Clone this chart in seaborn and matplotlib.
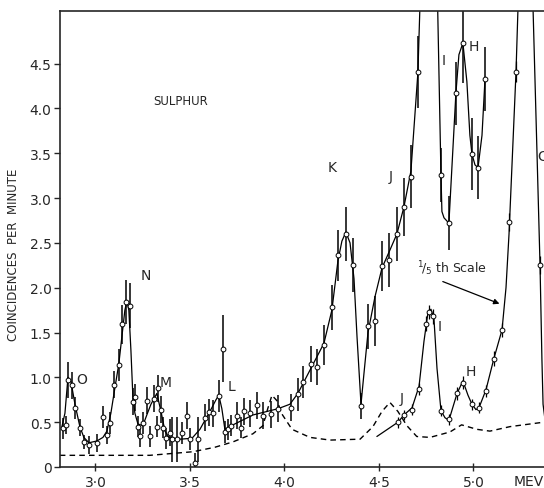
import seaborn as sns
import matplotlib.pyplot as plt

# measured points, normal scale (energy in MeV, coincidences per minute, error)
energy = [2.828, 2.844, 2.855, 2.876, 2.892, 2.918, 2.939, 2.966, 3.008, 3.040,
          3.061, 3.077, 3.098, 3.124, 3.140, 3.161, 3.183, 3.198, 3.209, 3.225,
          3.235, 3.251, 3.272, 3.288, 3.310, 3.325, 3.331, 3.347, 3.357, 3.373,
          3.394, 3.405, 3.431, 3.458, 3.484, 3.500, 3.526, 3.542, 3.579, 3.601,
          3.622, 3.653, 3.675, 3.685, 3.701, 3.717, 3.749, 3.770, 3.786, 3.817,
          3.854, 3.886, 3.929, 3.966, 4.034, 4.071, 4.098, 4.140, 4.172, 4.209,
          4.251, 4.283, 4.325, 4.362, 4.405, 4.442, 4.479, 4.516, 4.553, 4.595,
          4.632, 4.669, 4.706, 4.828, 4.870, 4.907, 4.944, 4.992, 5.024, 5.061]
counts = [0.43, 0.47, 0.97, 0.91, 0.66, 0.44, 0.28, 0.25, 0.27, 0.56,
          0.36, 0.49, 0.92, 1.14, 1.59, 1.84, 1.80, 0.73, 0.78, 0.45,
          0.34, 0.49, 0.74, 0.34, 0.76, 0.45, 0.88, 0.64, 0.44, 0.32,
          0.38, 0.31, 0.31, 0.38, 0.57, 0.31, 0.04, 0.31, 0.55, 0.61,
          0.60, 0.79, 1.32, 0.39, 0.42, 0.46, 0.57, 0.44, 0.62, 0.60,
          0.69, 0.57, 0.59, 0.65, 0.66, 0.81, 0.95, 1.15, 1.12, 1.36,
          1.78, 2.36, 2.60, 2.25, 0.68, 1.57, 1.63, 2.24, 2.31, 2.60,
          2.90, 3.24, 4.41, 3.26, 2.72, 4.17, 4.73, 3.49, 3.34, 4.33]
errors = [0.12, 0.10, 0.20, 0.15, 0.12, 0.10, 0.08, 0.10, 0.10, 0.12,
          0.10, 0.12, 0.15, 0.18, 0.22, 0.25, 0.25, 0.15, 0.15, 0.12,
          0.12, 0.12, 0.15, 0.12, 0.15, 0.12, 0.15, 0.15, 0.12, 0.12,
          0.15, 0.25, 0.25, 0.12, 0.15, 0.12, 0.12, 0.25, 0.15, 0.15,
          0.15, 0.18, 0.37, 0.12, 0.12, 0.12, 0.15, 0.12, 0.15, 0.15,
          0.15, 0.15, 0.15, 0.15, 0.15, 0.18, 0.18, 0.20, 0.20, 0.22,
          0.25, 0.28, 0.30, 0.30, 0.15, 0.25, 0.28, 0.28, 0.30, 0.30,
          0.32, 0.35, 0.40, 0.30, 0.30, 0.35, 0.45, 0.40, 0.35, 0.36]

# points plotted at 1/5th scale
energy_fifth = [4.601, 4.632, 4.675, 4.712, 4.749, 4.765, 4.786, 4.828, 4.870, 4.913,
                4.944, 4.992, 5.029, 5.066, 5.108, 5.151, 5.188, 5.225, 5.352]
counts_fifth = [0.50, 0.58, 0.64, 0.87, 1.60, 1.73, 1.68, 0.63, 0.53, 0.82,
                0.94, 0.70, 0.66, 0.85, 1.21, 1.53, 2.73, 4.41, 2.25]
errors_fifth = [0.06, 0.06, 0.06, 0.07, 0.08, 0.08, 0.08, 0.06, 0.06, 0.07,
                0.07, 0.06, 0.06, 0.07, 0.08, 0.08, 0.10, 0.12, 0.10]

# hand drawn curve through the normal scale points
curve_x = [2.823, 2.839, 2.855, 2.871, 2.892, 2.918, 2.939, 2.966, 3.008, 3.040,
           3.061, 3.082, 3.103, 3.124, 3.140, 3.156, 3.167, 3.177, 3.188, 3.198,
           3.209, 3.225, 3.251, 3.272, 3.294, 3.325, 3.347, 3.368, 3.389, 3.447,
           3.511, 3.553, 3.606, 3.638, 3.653, 3.669, 3.685, 3.728, 3.833, 3.966,
           4.029, 4.071, 4.140, 4.209, 4.251, 4.283, 4.304, 4.325, 4.347, 4.368,
           4.384, 4.405, 4.421, 4.442, 4.479, 4.516, 4.558, 4.595, 4.632, 4.669,
           4.706, 4.722]
curve_y = [0.45, 0.60, 1.00, 0.95, 0.70, 0.45, 0.33, 0.27, 0.29, 0.33,
           0.40, 0.60, 0.88, 1.15, 1.45, 1.75, 1.85, 1.75, 1.30, 0.80,
           0.60, 0.48, 0.46, 0.58, 0.70, 0.82, 0.62, 0.40, 0.33, 0.31,
           0.32, 0.42, 0.62, 0.75, 0.80, 0.65, 0.42, 0.47, 0.58, 0.65,
           0.70, 0.82, 1.10, 1.38, 1.75, 2.30, 2.52, 2.62, 2.50, 2.10,
           1.45, 0.70, 1.05, 1.50, 1.90, 2.22, 2.42, 2.60, 2.90, 3.30,
           4.40, 5.50]
curve2_x = [4.807, 4.828, 4.833, 4.844, 4.870, 4.907, 4.923, 4.944, 4.965, 4.981,
            4.992, 5.008, 5.024, 5.045, 5.061]
curve2_y = [5.50, 3.26, 2.85, 2.78, 2.72, 4.17, 4.60, 4.73, 4.30, 3.70,
            3.49, 3.37, 3.34, 3.70, 4.33]

# hand drawn curve through the 1/5th scale points
fifth_x = [4.489, 4.601, 4.632, 4.675, 4.712, 4.738, 4.759, 4.775, 4.791, 4.807,
           4.828, 4.849, 4.870, 4.913, 4.944, 4.971, 4.992, 5.013, 5.029, 5.066,
           5.108, 5.151, 5.172, 5.188, 5.225, 5.241]
fifth_y = [0.34, 0.50, 0.58, 0.66, 0.90, 1.40, 1.72, 1.76, 1.65, 1.10,
           0.63, 0.55, 0.52, 0.82, 0.96, 0.80, 0.70, 0.64, 0.66, 0.86,
           1.21, 1.53, 2.00, 2.60, 4.41, 5.50]
peak_g_x = [5.310, 5.336, 5.352, 5.362, 5.368, 5.380]
peak_g_y = [5.50, 3.50, 2.25, 1.20, 0.70, 0.50]

# dashed background
bg_x = [2.812, 3.288, 3.516, 3.632, 3.728, 3.833, 3.886, 3.913, 3.934, 3.960,
        3.990, 4.040, 4.135, 4.241, 4.400, 4.468, 4.516, 4.558, 4.600, 4.648,
        4.700, 4.770, 4.875, 4.937, 5.018, 5.087, 5.193, 5.373]
bg_y = [0.13, 0.13, 0.17, 0.22, 0.28, 0.37, 0.46, 0.66, 0.80, 0.74,
        0.58, 0.42, 0.33, 0.30, 0.31, 0.45, 0.62, 0.72, 0.62, 0.46,
        0.34, 0.33, 0.39, 0.47, 0.42, 0.40, 0.45, 0.50]

# peak letters
peak_names = ["O", "N", "M", "L", "K", "J", "I", "H", "G", "I", "H", "J"]
peak_x = [2.925, 3.267, 3.373, 3.720, 4.250, 4.560, 4.840, 5.000, 5.365, 4.822, 4.985, 4.622]
peak_y = [0.98, 2.14, 0.95, 0.90, 3.35, 3.25, 4.54, 4.70, 3.47, 1.57, 1.07, 0.77]

sns.set_style("ticks")
plt.rcParams['font.family'] = ['DejaVu Sans']

fig = plt.figure(figsize=(5.44, 4.89), dpi=100)
ax = fig.add_axes([0.110, 0.043, 0.890, 0.933])

line_kw = dict(sort=False, estimator=None, color="black", ax=ax, legend=False)
sns.lineplot(x=curve_x, y=curve_y, lw=0.9, **line_kw)
sns.lineplot(x=curve2_x, y=curve2_y, lw=0.9, **line_kw)
sns.lineplot(x=fifth_x, y=fifth_y, lw=0.9, **line_kw)
sns.lineplot(x=peak_g_x, y=peak_g_y, lw=0.9, **line_kw)
sns.lineplot(x=bg_x, y=bg_y, lw=1.0, dashes=False, linestyle=(0, (4, 3)), **line_kw)

ax.errorbar(energy, counts, yerr=errors, fmt="none", ecolor="black", elinewidth=1.1, capsize=0)
ax.errorbar(energy_fifth, counts_fifth, yerr=errors_fifth, fmt="none", ecolor="black",
            elinewidth=0.9, capsize=0)
sns.scatterplot(x=energy, y=counts, marker="o", s=12, color="white", edgecolor="black",
                linewidth=0.7, zorder=4, ax=ax)
sns.scatterplot(x=energy_fifth, y=counts_fifth, marker="o", s=12, color="white",
                edgecolor="black", linewidth=0.7, zorder=4, ax=ax)

for name, px, py in zip(peak_names, peak_x, peak_y):
    ax.text(px, py, name, fontsize=10, ha="center", va="center", clip_on=False)

ax.text(3.45, 4.09, "SULPHUR", fontsize=8.5, ha="center", va="center")
ax.text(4.70, 2.22, "$^{1}\\!/_{5}$ th Scale", fontsize=9, ha="left", va="center")
ax.annotate("", xy=(5.151, 1.81), xytext=(4.824, 2.08),
            arrowprops=dict(arrowstyle="-|>", color="black", lw=0.9, mutation_scale=8))

ax.set_xlim(2.812, 5.373)
ax.set_ylim(0, 5.09)
ax.set_xticks([3.0, 3.5, 4.0, 4.5, 5.0])
ax.set_xticklabels(["3·0", "3·5", "4·0", "4·5", "5·0"], fontsize=10)
ax.set_yticks([0, 0.5, 1.0, 1.5, 2.0, 2.5, 3.0, 3.5, 4.0, 4.5])
ax.set_yticklabels(["0", "0.5", "1.0", "1.5", "2.0", "2.5", "3.0", "3.5", "4.0", "4.5"], fontsize=10)
ax.tick_params(axis="x", direction="inout", length=6, width=1, pad=3)
ax.tick_params(axis="y", direction="out", length=4, width=1, pad=2)
ax.set_xlabel("")
ax.set_ylabel("")
for side in ["left", "top", "bottom"]:
    ax.spines[side].set_linewidth(1.2)
ax.spines["right"].set_visible(False)

fig.text(14 / 544, 1 - 255 / 489, "COINCIDENCES  PER  MINUTE", rotation=90,
         fontsize=8.5, ha="center", va="center")
ax.text(5.29, -0.16, "MEV", fontsize=10, ha="center", va="center", clip_on=False)

fig.savefig("out.png", dpi=100)
